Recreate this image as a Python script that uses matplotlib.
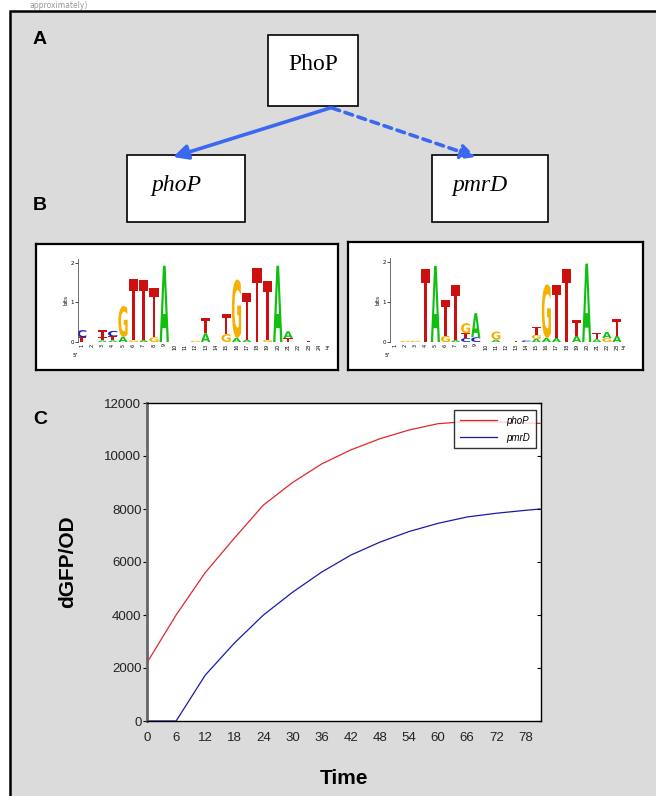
import numpy as np
import matplotlib
matplotlib.use("Agg")
import matplotlib.pyplot as plt
from matplotlib.patches import Rectangle, FancyArrowPatch, PathPatch
from matplotlib.textpath import TextPath
from matplotlib.font_manager import FontProperties
from matplotlib.transforms import Affine2D


# =========================
# DATA
# =========================
time_h = [0, 6, 12, 18, 24, 30, 36, 42, 48, 54, 60, 66, 72, 78, 81]
phoP_gfp = [2200, 4000, 5600, 6900, 8150, 9000, 9700, 10230, 10650,
            10980, 11220, 11300, 11290, 11250, 11230]
pmrD_gfp = [0, 0, 1730, 2940, 4000, 4860, 5620, 6260, 6750,
            7150, 7460, 7700, 7840, 7950, 8000]
time_ticks = [0, 6, 12, 18, 24, 30, 36, 42, 48, 54, 60, 66, 72, 78]
gfp_ticks = [0, 2000, 4000, 6000, 8000, 10000, 12000]

# sequence logo stacks (letter, bits), bottom to top
logo_phoP = [
    [("T", 0.12), ("C", 0.18)],
    [],
    [("A", 0.04), ("T", 0.08), ("T", 0.18)],
    [("A", 0.04), ("T", 0.10), ("C", 0.14)],
    [("A", 0.13), ("G", 0.78)],
    [("G", 0.04), ("T", 1.55)],
    [("A", 0.05), ("T", 1.53)],
    [("G", 0.12), ("T", 1.25)],
    [("A", 1.93)],
    [],
    [],
    [("G", 0.03)],
    [("A", 0.22), ("T", 0.38)],
    [],
    [("G", 0.20), ("T", 0.50)],
    [("A", 0.10), ("G", 1.48)],
    [("A", 0.06), ("T", 1.18)],
    [("T", 1.87)],
    [("G", 0.05), ("T", 1.50)],
    [("A", 1.93)],
    [("T", 0.10), ("A", 0.17)],
    [],
    [("T", 0.03)],
    [],
]

logo_pmrD = [
    [],
    [("G", 0.03)],
    [("G", 0.03)],
    [("T", 1.83)],
    [("A", 1.90)],
    [("G", 0.15), ("T", 0.90)],
    [("A", 0.05), ("T", 1.37)],
    [("C", 0.10), ("T", 0.12), ("G", 0.25)],
    [("C", 0.12), ("A", 0.60)],
    [],
    [("A", 0.06), ("G", 0.20)],
    [],
    [("T", 0.03)],
    [("C", 0.04)],
    [("A", 0.08), ("G", 0.10), ("T", 0.20)],
    [("A", 0.10), ("G", 1.34)],
    [("A", 0.10), ("T", 1.32)],
    [("T", 1.83)],
    [("A", 0.15), ("T", 0.40)],
    [("A", 1.96)],
    [("A", 0.07), ("T", 0.15)],
    [("G", 0.10), ("A", 0.15)],
    [("A", 0.15), ("T", 0.43)],
]

base_colors = {"A": "#10c010", "C": "#2020c0", "G": "#f5b000", "T": "#cc1010"}

W, H = 656, 796


def px_axes(fig, x0, y0, x1, y1):
    return fig.add_axes([x0 / W, 1 - y1 / H, (x1 - x0) / W, (y1 - y0) / H])


letter_font = FontProperties(family="DejaVu Sans", weight="bold")


def draw_letter(ax, ch, x, y, w, h, color):
    tp = TextPath((0, 0), ch, size=1, prop=letter_font)
    bb = tp.get_extents()
    tr = (Affine2D()
          .translate(-bb.x0, -bb.y0)
          .scale(w / bb.width, h / bb.height)
          .translate(x - w / 2, y))
    ax.add_patch(PathPatch(tr.transform_path(tp), fc=color, ec="none"))


def draw_logo(fig, box, inner, stacks, xlim):
    bax = px_axes(fig, *box)
    bax.set_facecolor("white")
    bax.set_xticks([])
    bax.set_yticks([])
    for s in bax.spines.values():
        s.set_linewidth(1.6)

    ax = px_axes(fig, *inner)
    ax.patch.set_alpha(0)
    for i, stack in enumerate(stacks):
        y = 0
        for ch, h in stack:
            draw_letter(ax, ch, i + 1, y, 0.9, h, base_colors[ch])
            y += h
    ax.set_xlim(*xlim)
    ax.set_ylim(0, 2.1)
    for side in ["top", "right", "bottom"]:
        ax.spines[side].set_visible(False)
    ax.spines["left"].set_linewidth(0.6)
    ax.spines["left"].set_color("#555555")
    ax.set_yticks([0, 1, 2])
    ax.tick_params(axis="y", labelsize=4, length=2, width=0.5, pad=1)
    ax.set_ylabel("bits", fontsize=4, labelpad=1)
    ax.set_xticks(range(1, len(stacks) + 1))
    ax.set_xticklabels([str(k) for k in range(1, len(stacks) + 1)],
                       rotation=90, fontsize=3.5)
    ax.tick_params(axis="x", length=0, pad=1)
    ax.text(xlim[0] - 0.3, -0.28, "5'", fontsize=4, ha="center", va="top")
    ax.text(xlim[1], -0.1, "3'", fontsize=4, ha="center", va="top")


# =========================
# FIGURE + PANEL
# =========================
fig = plt.figure(figsize=(W / 100, H / 100), dpi=100)
fig.patch.set_facecolor("white")

bg = fig.add_axes([0, 0, 1, 1])
bg.set_xlim(0, W)
bg.set_ylim(H, 0)
bg.axis("off")

bg.add_patch(Rectangle((10, 11), 700, 800, fc="#dbdbdb", ec="black", lw=1.8))
bg.text(30, 5, "approximately)", fontsize=5.5, color="#999999",
        va="center")

for lab, yy in [("A", 40), ("B", 206), ("C", 419)]:
    bg.text(33, yy, lab, fontsize=14, fontweight="bold",
            family="Liberation Sans", va="center")

# =========================
# NETWORK (A)
# =========================
node_boxes = {
    "PhoP": (268, 35, 358, 106),
    "phoP": (127, 155, 245, 222),
    "pmrD": (432, 155, 548, 222),
}
for name, (x0, y0, x1, y1) in node_boxes.items():
    bg.add_patch(Rectangle((x0, y0), x1 - x0, y1 - y0,
                           fc="white", ec="black", lw=1.2))

bg.text(313, 64, "PhoP", fontsize=17, family="Liberation Serif",
        ha="center", va="center")
bg.text(176, 185, "phoP", fontsize=17, family="Liberation Serif",
        style="italic", ha="center", va="center")
bg.text(480, 185, "pmrD", fontsize=17, family="Liberation Serif",
        style="italic", ha="center", va="center")

arrow_blue = "#3b68f0"
bg.add_patch(FancyArrowPatch((330, 108), (173, 157), arrowstyle="-|>",
                             mutation_scale=22, lw=2.6, color=arrow_blue,
                             shrinkA=0, shrinkB=0))
bg.add_patch(FancyArrowPatch((332, 108), (476, 157), arrowstyle="-|>",
                             mutation_scale=22, lw=2.6, color=arrow_blue,
                             linestyle=(0, (2.2, 1.6)),
                             shrinkA=0, shrinkB=0))

# =========================
# SEQUENCE LOGOS (B)
# =========================
draw_logo(fig, (36, 244, 338, 370), (78, 259, 327, 342),
          logo_phoP, (0.64, 24.77))
draw_logo(fig, (348, 242, 643, 370), (390, 258, 623, 342),
          logo_pmrD, (0.5, 23.6))

# =========================
# TIME COURSE (C)
# =========================
ax = px_axes(fig, 147, 403, 541, 721)
ax.set_facecolor("white")

ax.plot(time_h, phoP_gfp, color="#e02828", lw=0.9, label="phoP")
ax.plot(time_h, pmrD_gfp, color="#1a1aa8", lw=0.9, label="pmrD")

ax.set_xlim(0, 81.2)
ax.set_ylim(0, 12000)
ax.set_xticks(time_ticks)
ax.set_yticks(gfp_ticks)
ax.tick_params(axis="x", length=0, pad=8, labelsize=9.5, labelcolor="#222222")
ax.tick_params(axis="y", direction="out", length=3, labelsize=9.5,
               labelcolor="#222222", pad=1)
for lbl in ax.get_xticklabels() + ax.get_yticklabels():
    lbl.set_family("Liberation Sans")

ax.spines["left"].set_color("#666666")
ax.spines["left"].set_linewidth(2)
for side in ["top", "right", "bottom"]:
    ax.spines[side].set_linewidth(1)

# right side ticks point inward
ax2 = ax.twinx()
ax2.set_ylim(0, 12000)
ax2.set_yticks(gfp_ticks)
ax2.tick_params(axis="y", direction="in", length=3, labelright=False)
for s in ax2.spines.values():
    s.set_visible(False)

ax.set_xlabel("Time", fontsize=15, fontweight="bold",
              family="Liberation Sans", labelpad=18)
ax.set_ylabel("dGFP/OD", fontsize=15, fontweight="bold",
              family="Liberation Sans", labelpad=20)

leg = ax.legend(loc="upper right", bbox_to_anchor=(0.987, 0.978),
                prop={"style": "italic", "size": 7, "family": "Liberation Sans"},
                frameon=True, fancybox=False, edgecolor="black",
                handlelength=3.8, handletextpad=1.0, borderpad=0.6,
                labelspacing=0.7, borderaxespad=0)
leg.get_frame().set_linewidth(1)

fig.savefig("out.png", dpi=100)
